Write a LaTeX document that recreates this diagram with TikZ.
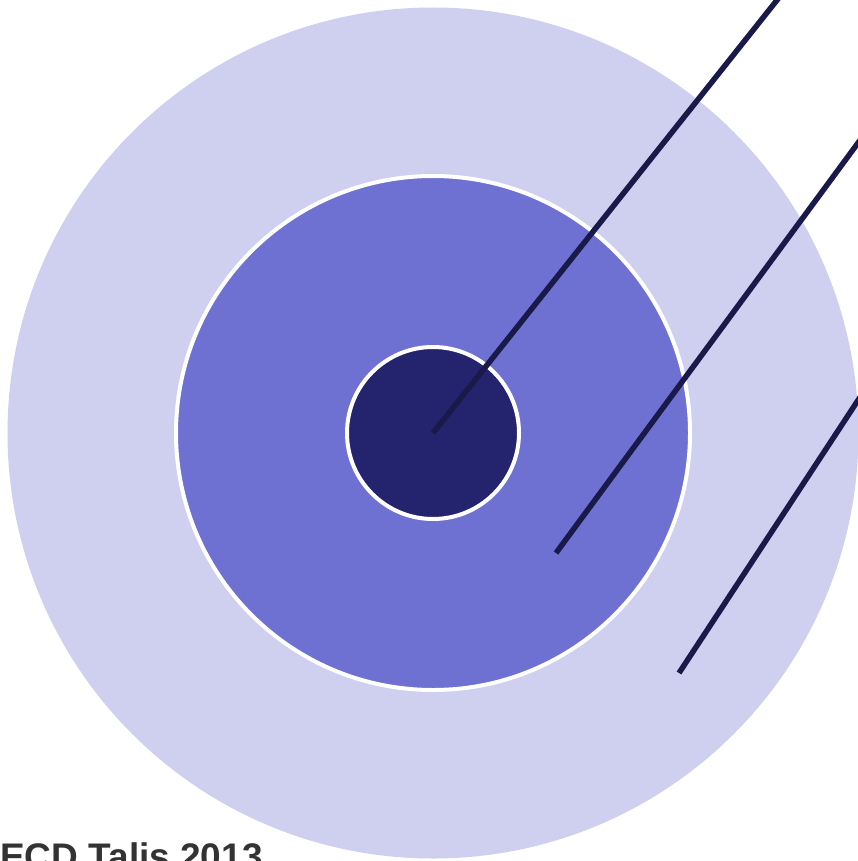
\documentclass[tikz,border=0pt]{standalone}
\usepackage{fontspec}
\setmainfont{Liberation Sans}
\definecolor{outerc}{HTML}{CFCFEF}
\definecolor{midc}{HTML}{6E70D2}
\definecolor{innerc}{HTML}{24236E}
\definecolor{linec}{HTML}{1A1A4A}
\definecolor{textc}{HTML}{333333}
\begin{document}
\begin{tikzpicture}[x=1pt,y=-1pt,
  ring/.style={circle,inner sep=0pt,outer sep=0pt},
  pointer/.style={draw=linec,line width=5.5pt}]
\useasboundingbox (0,0) rectangle (858,861);
\clip (0,0) rectangle (858,861);
\node[ring,fill=outerc,minimum size=851pt] (outer) at (433,433) {};
\node[ring,fill=midc,draw=white,line width=4pt,minimum size=514pt] (mid) at (433,433) {};
\node[ring,fill=innerc,draw=white,line width=4pt,minimum size=172pt] (inner) at (433,433) {};
\coordinate (p1a) at (433,433);
\coordinate (p1b) at (789,-15);
\coordinate (p2a) at (556,553);
\coordinate (p2b) at (869,128);
\coordinate (p3a) at (679,673);
\coordinate (p3b) at (868,385);
\draw[pointer] (p1a) -- (p1b);
\draw[pointer] (p2a) -- (p2b);
\draw[pointer] (p3a) -- (p3b);
\node[anchor=base west,inner sep=0pt,text=textc,font=\fontsize{37}{40}\selectfont\bfseries] (credit) at (0,869) {ECD Talis 2013};
\end{tikzpicture}
\end{document}
